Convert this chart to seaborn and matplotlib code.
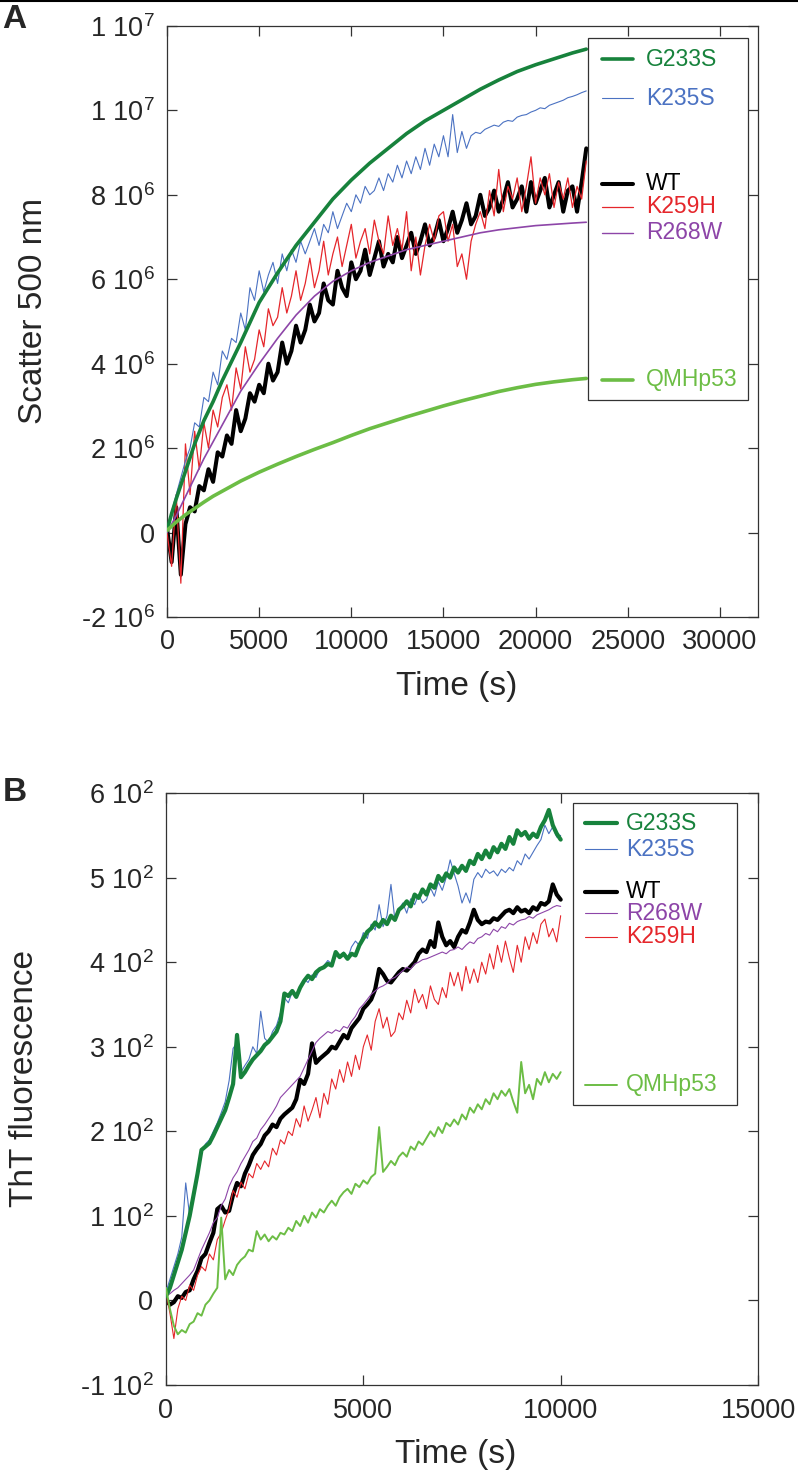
import matplotlib
matplotlib.use("Agg")
import matplotlib.pyplot as plt
import seaborn as sns
import numpy as np
from matplotlib.patches import Rectangle
from matplotlib.lines import Line2D

# ==========================================
#   PANEL A : scatter at 500 nm (units 1e6)
# ==========================================
time_a = [0, 250, 500, 750, 1000, 1250, 1500, 1750, 2000, 2250,
          2500, 2750, 3000, 3250, 3500, 3750, 4000, 4250, 4500, 4750,
          5000, 5250, 5500, 5750, 6000, 6250, 6500, 6750, 7000, 7250,
          7500, 7750, 8000, 8250, 8500, 8750, 9000, 9250, 9500, 9750,
          10000, 10250, 10500, 10750, 11000, 11250, 11500, 11750, 12000, 12250,
          12500, 12750, 13000, 13250, 13500, 13750, 14000, 14250, 14500, 14750,
          15000, 15250, 15500, 15750, 16000, 16250, 16500, 16750, 17000, 17250,
          17500, 17750, 18000, 18250, 18500, 18750, 19000, 19250, 19500, 19750,
          20000, 20250, 20500, 20750, 21000, 21250, 21500, 21750, 22000, 22250,
          22500, 22750]

wt_a = [0.1, -0.7, 0.6, -1.0, 0.2, 0.6, 0.5, 1.1, 1.0, 1.5,
        1.2, 1.9, 1.8, 2.3, 2.1, 2.9, 2.4, 2.7, 3.3, 3.1,
        3.5, 3.3, 4.0, 3.6, 3.8, 4.5, 4.0, 4.3, 4.9, 4.5,
        4.8, 5.4, 5.0, 5.2, 5.9, 5.5, 5.4, 6.2, 5.8, 5.6,
        6.4, 6.0, 6.2, 6.7, 6.1, 6.5, 6.9, 6.3, 6.6, 6.4,
        7.0, 6.5, 6.8, 7.1, 6.6, 6.9, 7.3, 6.8, 7.0, 7.4,
        6.9, 7.2, 7.6, 7.1, 7.4, 7.8, 7.3, 7.5, 8.0, 7.5,
        7.7, 8.1, 7.6, 7.9, 8.3, 7.7, 7.9, 8.2, 7.6, 8.3,
        7.8, 8.1, 8.4, 7.7, 8.0, 8.3, 7.6, 8.1, 8.2, 7.6,
        8.3, 9.1]

k259h_a = [0.0, -0.8, 0.9, -1.2, 2.1, 0.9, 2.4, 1.5, 2.6, 2.0,
           2.9, 2.5, 3.2, 3.5, 2.9, 3.9, 3.4, 4.4, 3.8, 4.1,
           4.8, 4.4, 5.3, 4.9, 5.1, 5.8, 5.2, 5.6, 6.2, 5.5,
           5.9, 6.5, 5.8, 6.2, 6.9, 6.1, 6.6, 7.0, 6.3, 6.8,
           7.3, 6.5, 6.9, 7.2, 6.6, 7.4, 6.9, 6.6, 7.5, 6.8,
           7.2, 6.7, 7.6, 6.2, 7.0, 6.1, 6.8, 7.3, 6.9, 7.5,
           7.6, 6.9, 7.3, 6.3, 6.6, 6.0, 6.9, 7.3, 7.6, 7.2,
           8.1, 7.5, 8.6, 7.6, 8.2, 7.9, 8.4, 7.6, 8.2, 8.9,
           7.8, 8.4, 8.0, 8.5, 7.7, 8.3, 7.9, 8.4, 7.7, 8.2,
           7.9, 8.8]

k235s_a = [0.0, 0.5, 0.9, 1.3, 1.7, 2.0, 2.6, 2.5, 3.2, 3.1,
           3.8, 3.5, 4.3, 4.1, 4.6, 4.5, 5.2, 4.8, 5.8, 5.5,
           6.2, 5.7, 6.1, 6.4, 5.9, 6.6, 6.2, 6.7, 6.4, 6.9,
           6.6, 6.9, 7.2, 6.8, 7.3, 7.1, 7.6, 7.2, 7.5, 7.8,
           7.6, 8.0, 7.8, 8.2, 8.0, 8.1, 8.4, 8.1, 8.5, 8.3,
           8.7, 8.4, 8.8, 8.5, 8.9, 8.6, 9.1, 8.7, 9.2, 8.9,
           9.4, 8.9, 9.9, 9.0, 9.5, 9.1, 9.4, 9.48, 9.45, 9.55,
           9.6, 9.65, 9.62, 9.72, 9.76, 9.74, 9.84, 9.88, 9.9, 9.96,
           10.0, 10.06, 10.04, 10.12, 10.16, 10.2, 10.24, 10.3, 10.33, 10.37,
           10.42, 10.46]

time_a_smooth = [0, 250, 500, 1000, 1500, 2000, 2500, 3000, 3500, 4000,
                 5000, 6000, 7000, 8000, 9000, 10000, 11000, 12000, 13000, 14000,
                 15000, 16000, 17000, 18000, 19000, 20000, 21000, 22000, 22750]

g233s_a = [0.05, 0.45, 0.8, 1.45, 2.1, 2.65, 3.1, 3.6, 4.05, 4.5,
           5.45, 6.15, 6.8, 7.35, 7.9, 8.35, 8.75, 9.1, 9.45, 9.75,
           10.0, 10.25, 10.5, 10.72, 10.92, 11.08, 11.22, 11.36, 11.45]

r268w_a = [0.0, 0.2, 0.4, 0.85, 1.3, 1.75, 2.15, 2.55, 2.95, 3.35,
           4.0, 4.6, 5.15, 5.6, 5.95, 6.2, 6.4, 6.55, 6.7, 6.8,
           6.9, 7.0, 7.1, 7.17, 7.22, 7.27, 7.3, 7.33, 7.35]

qmh_a = [0.05, 0.15, 0.25, 0.42, 0.57, 0.72, 0.86, 0.98, 1.1, 1.22,
         1.43, 1.62, 1.8, 1.97, 2.13, 2.3, 2.46, 2.6, 2.74, 2.87,
         3.0, 3.12, 3.23, 3.34, 3.43, 3.51, 3.57, 3.62, 3.65]

# ==========================================
#   PANEL B : ThT fluorescence
# ==========================================
time_b = [0, 100, 200, 300, 400, 500, 600, 700, 800, 900,
          1000, 1100, 1200, 1300, 1400, 1500, 1600, 1700, 1800, 1900,
          2000, 2100, 2200, 2300, 2400, 2500, 2600, 2700, 2800, 2900,
          3000, 3100, 3200, 3300, 3400, 3500, 3600, 3700, 3800, 3900,
          4000, 4100, 4200, 4300, 4400, 4500, 4600, 4700, 4800, 4900,
          5000, 5100, 5200, 5300, 5400, 5500, 5600, 5700, 5800, 5900,
          6000, 6100, 6200, 6300, 6400, 6500, 6600, 6700, 6800, 6900,
          7000, 7100, 7200, 7300, 7400, 7500, 7600, 7700, 7800, 7900,
          8000, 8100, 8200, 8300, 8400, 8500, 8600, 8700, 8800, 8900,
          9000, 9100, 9200, 9300, 9400, 9500, 9600, 9700, 9800, 9900,
          10000]

g233s_b = [5, 15, 30, 45, 60, 80, 100, 125, 150, 178,
           182, 186, 195, 205, 215, 225, 240, 256, 314, 264,
           270, 278, 285, 290, 295, 302, 306, 312, 318, 330,
           363, 360, 366, 359, 370, 378, 384, 380, 388, 392,
           394, 398, 396, 412, 406, 410, 404, 410, 408, 420,
           428, 436, 440, 447, 442, 450, 445, 455, 450, 462,
           466, 472, 466, 480, 476, 486, 480, 492, 488, 502,
           496, 505, 500, 512, 506, 514, 508, 520, 516, 528,
           522, 532, 524, 536, 530, 540, 534, 548, 540, 556,
           550, 554, 546, 552, 548, 560, 568, 580, 562, 552,
           545]

k235s_b = [10, 25, 40, 55, 75, 139, 100, 120, 150, 175,
           185, 190, 200, 210, 222, 235, 260, 298, 305, 270,
           278, 285, 300, 292, 342, 310, 305, 318, 325, 340,
           358, 352, 365, 358, 372, 380, 376, 385, 382, 392,
           396, 402, 398, 410, 405, 412, 404, 418, 425, 420,
           435, 428, 445, 438, 468, 442, 455, 492, 450, 462,
           470, 458, 475, 468, 480, 470, 474, 488, 478, 495,
           485, 500, 521, 505, 490, 470, 482, 470, 498, 506,
           500, 510, 505, 508, 502, 510, 506, 512, 508, 520,
           515, 528, 522, 530, 538, 545, 562, 552, 560, 548,
           550]

wt_b = [0, -5, -2, 5, 3, 10, 12, 25, 35, 50,
        55, 68, 80, 108, 112, 104, 106, 125, 139, 135,
        150, 160, 172, 179, 185, 195, 200, 208, 205, 215,
        220, 224, 228, 238, 261, 256, 268, 304, 281, 286,
        290, 294, 300, 298, 306, 314, 310, 322, 328, 334,
        345, 350, 356, 368, 392, 386, 378, 376, 382, 388,
        392, 390, 395, 400, 410, 415, 412, 425, 418, 447,
        430, 420, 425, 418, 430, 438, 435, 447, 462, 450,
        445, 448, 447, 452, 450, 455, 460, 462, 458, 465,
        460, 462, 458, 465, 462, 470, 468, 472, 492, 480,
        474]

r268w_b = [5, 8, 12, 15, 20, 25, 30, 36, 48, 60,
           70, 80, 92, 98, 112, 120, 135, 145, 152, 162,
           170, 178, 188, 192, 202, 208, 215, 222, 230, 240,
           245, 250, 255, 260, 265, 275, 285, 295, 305, 310,
           314, 318, 316, 320, 318, 324, 322, 330, 336, 345,
           350, 356, 362, 366, 370, 372, 375, 380, 382, 386,
           390, 394, 392, 398, 400, 403, 404, 406, 408, 410,
           412, 410, 414, 415, 418, 415, 420, 424, 422, 428,
           430, 434, 432, 439, 436, 442, 440, 446, 444, 448,
           450, 451, 454, 452, 456, 458, 460, 462, 465, 467,
           466]

k259h_b = [10, -15, -45, -10, 5, 0, 18, 12, 30, 40,
           35, 55, 48, 72, 80, 95, 108, 130, 122, 140,
           132, 150, 145, 162, 155, 165, 158, 180, 172, 190,
           185, 200, 195, 215, 205, 230, 212, 225, 240, 216,
           245, 232, 262, 250, 273, 258, 282, 265, 290, 273,
           300, 314, 296, 330, 345, 322, 335, 312, 318, 340,
           332, 355, 340, 368, 352, 362, 345, 372, 356, 350,
           370, 358, 388, 372, 388, 366, 395, 375, 392, 376,
           400, 386, 410, 392, 420, 400, 425, 405, 388, 420,
           400, 430, 415, 435, 422, 445, 451, 430, 440, 424,
           455]

qmh_b = [15, -10, -30, -40, -35, -38, -28, -25, -15, -18,
         -5, 0, 8, 15, 98, 25, 36, 30, 42, 48,
         52, 60, 58, 82, 72, 78, 70, 76, 72, 80,
         78, 86, 82, 94, 88, 100, 92, 104, 98, 108,
         104, 112, 118, 112, 122, 128, 132, 126, 138, 134,
         142, 138, 146, 150, 205, 152, 158, 165, 160, 170,
         175, 170, 182, 178, 188, 184, 192, 200, 194, 205,
         198, 210, 206, 214, 208, 220, 214, 228, 222, 232,
         226, 238, 232, 245, 238, 248, 242, 250, 235, 222,
         282, 245, 255, 238, 262, 255, 270, 258, 268, 262,
         270]

C_G233S = "#17823c"
C_K235S = "#4b72c2"
C_WT = "#000000"
C_K259H = "#e5262b"
C_R268W = "#8d45a8"
C_QMH = "#6cbd45"
EDGE = "#333333"

sns.set_style("ticks")
plt.rcParams["font.family"] = ["Liberation Sans", "DejaVu Sans"]
plt.rcParams["mathtext.fontset"] = "custom"
plt.rcParams["mathtext.rm"] = "Liberation Sans"
plt.rcParams["mathtext.default"] = "regular"


def draw(ax, t, v, color, lw, scale=1.0, z=2):
    sns.lineplot(x=np.asarray(t, dtype=float), y=np.asarray(v, dtype=float) * scale,
                 ax=ax, color=color, linewidth=lw, estimator=None, sort=False,
                 legend=False, zorder=z)


def style_axes(ax):
    for s in ax.spines.values():
        s.set_visible(True)
        s.set_color(EDGE)
        s.set_linewidth(0.9)
    ax.tick_params(direction="in", length=7.5, width=0.9, color=EDGE,
                   top=True, right=True, labelsize=19.5, pad=9)


def draw_legend(ax, box, entries, x_line, x_text):
    x0, y0, x1, y1 = box
    ax.add_patch(Rectangle((x0, y0), x1 - x0, y1 - y0, transform=ax.transAxes,
                           facecolor="white", edgecolor=EDGE, linewidth=0.9, zorder=5))
    for label, color, lw, y in entries:
        ax.add_line(Line2D(x_line, [y, y], transform=ax.transAxes, color=color,
                           linewidth=lw, zorder=6))
        ax.text(x_text, y, label, transform=ax.transAxes, color=color,
                fontsize=16.5, ha="left", va="center", zorder=6)


fig = plt.figure(figsize=(7.98, 14.81), dpi=100)

# ---------------- Panel A ----------------
ax_a = fig.add_axes([0.2093, 0.5834, 0.7406, 0.3991])
draw(ax_a, time_a, wt_a, C_WT, 2.9, 1e6, 2)
draw(ax_a, time_a, k259h_a, C_K259H, 0.9, 1e6, 3)
draw(ax_a, time_a_smooth, r268w_a, C_R268W, 1.2, 1e6, 4)
draw(ax_a, time_a, k235s_a, C_K235S, 0.8, 1e6, 3)
draw(ax_a, time_a_smooth, g233s_a, C_G233S, 2.6, 1e6, 4)
draw(ax_a, time_a_smooth, qmh_a, C_QMH, 2.6, 1e6, 4)

ax_a.set_xlim(0, 32070)
ax_a.set_ylim(-2e6, 1.2e7)
ax_a.set_xticks([0, 5000, 10000, 15000, 20000, 25000, 30000],
                ["0", "5000", "10000", "15000", "20000", "25000", "30000"])
ax_a.set_yticks([-2e6, 0, 2e6, 4e6, 6e6, 8e6, 1e7, 1.2e7],
                ["-2 $10^{6}$", "0", "2 $10^{6}$", "4 $10^{6}$", "6 $10^{6}$",
                 "8 $10^{6}$", "1 $10^{7}$", "1 $10^{7}$"])
style_axes(ax_a)
ax_a.set_xlabel("Time (s)", fontsize=24)
ax_a.set_ylabel("Scatter 500 nm", fontsize=24)
ax_a.xaxis.set_label_coords(0.49, -0.091)
ax_a.yaxis.set_label_coords(-0.200, 0.518)

draw_legend(ax_a, (0.712, 0.367, 0.983, 0.980),
            [("G233S", C_G233S, 2.6, 0.944),
             ("K235S", C_K235S, 0.8, 0.878),
             ("WT", C_WT, 2.9, 0.733),
             ("K259H", C_K259H, 0.9, 0.694),
             ("R268W", C_R268W, 1.0, 0.650),
             ("QMHp53", C_QMH, 2.6, 0.401)],
            [0.736, 0.788], 0.810)

# ---------------- Panel B ----------------
ax_b = fig.add_axes([0.2080, 0.0648, 0.7419, 0.3997])
draw(ax_b, time_b, wt_b, C_WT, 3.0, 1.0, 2)
draw(ax_b, time_b, r268w_b, C_R268W, 0.8, 1.0, 3)
draw(ax_b, time_b, k259h_b, C_K259H, 0.8, 1.0, 3)
draw(ax_b, time_b, k235s_b, C_K235S, 0.8, 1.0, 3)
draw(ax_b, time_b, g233s_b, C_G233S, 3.0, 1.0, 4)
draw(ax_b, time_b, qmh_b, C_QMH, 1.4, 1.0, 4)

ax_b.set_xlim(0, 15000)
ax_b.set_ylim(-100, 600)
ax_b.set_xticks([0, 5000, 10000, 15000], ["0", "5000", "10000", "15000"])
ax_b.set_yticks([-100, 0, 100, 200, 300, 400, 500, 600],
                ["-1 $10^{2}$", "0", "1 $10^{2}$", "2 $10^{2}$", "3 $10^{2}$",
                 "4 $10^{2}$", "5 $10^{2}$", "6 $10^{2}$"])
style_axes(ax_b)
ax_b.set_xlabel("Time (s)", fontsize=24)
ax_b.set_ylabel("ThT fluorescence", fontsize=24)
ax_b.xaxis.set_label_coords(0.49, -0.091)
ax_b.yaxis.set_label_coords(-0.213, 0.517)

draw_legend(ax_b, (0.6875, 0.473, 0.9645, 0.983),
            [("G233S", C_G233S, 3.0, 0.949),
             ("K235S", C_K235S, 0.8, 0.905),
             ("WT", C_WT, 3.0, 0.833),
             ("R268W", C_R268W, 0.8, 0.797),
             ("K259H", C_K259H, 0.8, 0.757),
             ("QMHp53", C_QMH, 1.4, 0.507)],
            [0.708, 0.762], 0.777)

# panel letters and top rule
fig.text(0.003, 0.9975, "A", fontsize=24, fontweight="bold", ha="left", va="top")
fig.text(0.004, 1 - 777 / 1481, "B", fontsize=24, fontweight="bold", ha="left", va="top")
fig.add_artist(Line2D([0, 1], [0.9994, 0.9994], transform=fig.transFigure,
                      color="black", linewidth=1.5))

fig.savefig("out.png", dpi=100)
plt.close(fig)
